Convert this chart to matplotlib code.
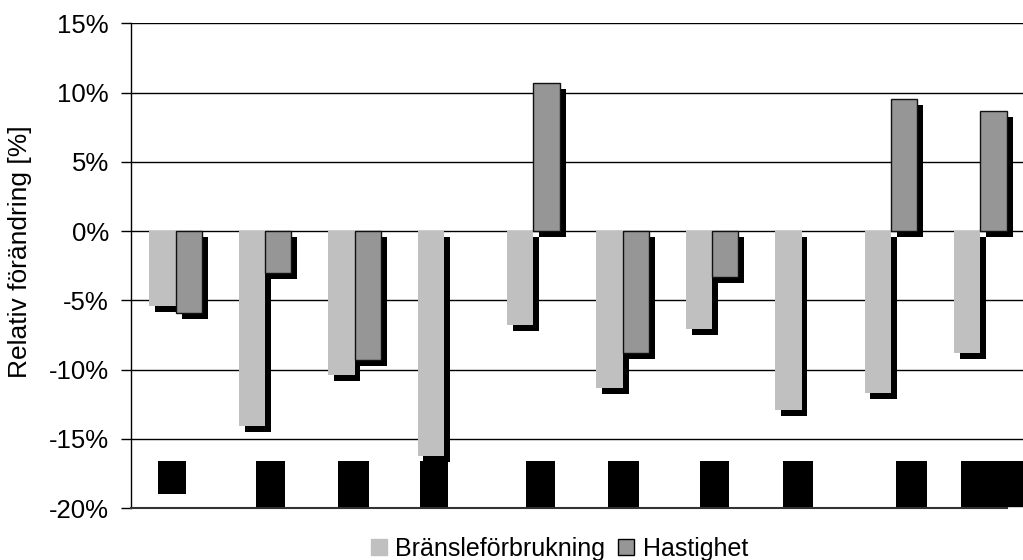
import numpy as np
import matplotlib
matplotlib.use("Agg")
import matplotlib.pyplot as plt
import matplotlib.patheffects as pe
from matplotlib.lines import Line2D
from matplotlib.ticker import FuncFormatter

plt.rcParams["font.family"] = ["Liberation Sans", "DejaVu Sans"]

# ── data (relative change, %) ────────────────────────────────────────────────
fuel = [-5.4, -14.1, -10.4, -16.2, -6.8, -11.3, -7.1, -12.9, -11.7, -8.8]
speed = [-5.9, -3.0, -9.3, np.nan, 10.7, -8.8, -3.3, np.nan, 9.5, 8.7]
series_names = ["Bränsleförbrukning", "Hastighet"]

# redacted category labels (black boxes under the bars)
label_left = [-0.20, 0.90, 1.82, 2.73, 3.92, 4.84, 5.87, 6.79, 8.06, 8.78]
label_right = [0.12, 1.22, 2.16, 3.05, 4.24, 5.18, 6.19, 7.13, 8.40, 9.50]
label_top = [-16.6] * 10
label_bottom = [-19.0] + [-19.9] * 9

yticks = [-20, -15, -10, -5, 0, 5, 10, 15]

# ── styling ───────────────────────────────────────────────────────────────────
LIGHT = "#c0c0c0"
DARK = "#969696"
W = 0.295
shadow = [pe.SimplePatchShadow(offset=(4.3, -4.3), shadow_rgbFace="black", alpha=1.0),
          pe.Normal()]

fig = plt.figure(figsize=(10.23, 5.60), dpi=100)
ax = fig.add_axes([131 / 1023, 0.0925, 894 / 1023, 0.866])

x = np.arange(len(fuel))
sp = np.array(speed, dtype=float)
ok = ~np.isnan(sp)

ax.bar(x - W / 2, fuel, width=W, color=LIGHT, edgecolor="none",
       zorder=3, path_effects=shadow)
ax.bar(x[ok] + W / 2, sp[ok], width=W, color=DARK, edgecolor="#111111",
       linewidth=1.0, zorder=4, path_effects=shadow)

lb = np.array(label_bottom)
lt = np.array(label_top)
ll = np.array(label_left)
lr = np.array(label_right)
ax.bar(ll, lt - lb, bottom=lb, width=lr - ll, align="edge",
       color="black", edgecolor="none", zorder=5, clip_on=False)

ax.set_xlim(-0.5, 9.5)
ax.set_ylim(-20, 15)
ax.set_yticks(yticks)
ax.yaxis.set_major_formatter(FuncFormatter(lambda v, _: f"{v:.0f}%"))
ax.set_xticks([])
ax.yaxis.grid(True, color="black", linewidth=1.0)
ax.set_axisbelow(True)
for s in ("top", "right"):
    ax.spines[s].set_visible(False)
ax.spines["left"].set_linewidth(1.0)
ax.spines["bottom"].set_linewidth(1.5)
ax.spines["bottom"].set_color("#333333")
ax.spines["bottom"].set_bounds(-0.5, 9.3)
ax.tick_params(axis="y", direction="out", length=7, width=1.0,
               labelsize=18.5, pad=9)

fig.text(20 / 1023, 1 - 252 / 560, "Relativ förändring [%]", rotation=90,
         ha="center", va="center", fontsize=19)

handles = [
    Line2D([], [], marker="s", linestyle="none", markersize=11,
           markerfacecolor=LIGHT, markeredgecolor=LIGHT),
    Line2D([], [], marker="s", linestyle="none", markersize=11,
           markerfacecolor=DARK, markeredgecolor="black", markeredgewidth=1.0),
]
fig.legend(handles, series_names, loc="center", ncol=2, frameon=False,
           fontsize=18, handlelength=0.7, handletextpad=0.3,
           columnspacing=0.5, borderpad=0, bbox_to_anchor=(559 / 1023, 1 - 549 / 560))

fig.savefig("out.png", dpi=100)
